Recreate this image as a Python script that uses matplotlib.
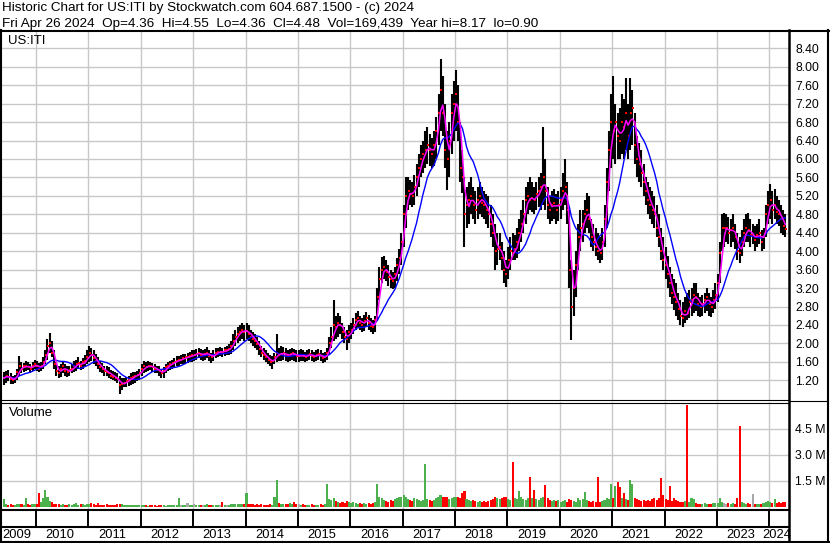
import matplotlib
matplotlib.use('Agg')
import matplotlib.pyplot as plt
from matplotlib.lines import Line2D
import numpy as np
import pandas as pd

plt.rcParams['font.family'] = ['Liberation Sans', 'DejaVu Sans']

# semi-monthly bars (1st / 15th), 15 May 2009 .. 15 Apr 2024
dates = pd.date_range('2009-05-15', '2024-04-15', freq='SMS')

lo = [
    1.10, 1.15, 1.18, 1.12, 1.12, 1.15, 1.20, 1.30, 1.35, 1.38, 1.40, 1.42, 1.35, 1.40, 1.45,  # 2009
    1.40, 1.38, 1.40, 1.45, 1.55, 1.65, 1.80, 1.70, 1.45, 1.30, 1.25, 1.28, 1.35, 1.30, 1.28, 1.30, 1.35, 1.38, 1.40, 1.45, 1.42, 1.45, 1.50, 1.55,  # 2010
    1.60, 1.62, 1.55, 1.50, 1.45, 1.38, 1.35, 1.30, 1.30, 1.25, 1.22, 1.20, 1.18, 1.15, 0.90, 1.00, 1.05, 1.05, 1.08, 1.10, 1.12, 1.15, 1.18, 1.20,  # 2011
    1.30, 1.35, 1.38, 1.40, 1.42, 1.38, 1.35, 1.35, 1.30, 1.25, 1.25, 1.35, 1.40, 1.42, 1.45, 1.48, 1.50, 1.52, 1.55, 1.55, 1.55, 1.58, 1.60, 1.60,  # 2012
    1.62, 1.65, 1.68, 1.65, 1.62, 1.65, 1.68, 1.62, 1.58, 1.62, 1.68, 1.70, 1.72, 1.70, 1.72, 1.75, 1.75, 1.78, 1.85, 1.95, 2.00, 2.05, 2.10, 2.05,  # 2013
    2.10, 2.05, 2.00, 1.95, 1.90, 1.85, 1.75, 1.70, 1.65, 1.60, 1.55, 1.50, 1.45, 1.55, 1.60, 1.62, 1.62, 1.65, 1.62, 1.60, 1.62, 1.65, 1.62, 1.60,  # 2014
    1.60, 1.62, 1.62, 1.60, 1.62, 1.65, 1.62, 1.60, 1.62, 1.65, 1.62, 1.58, 1.60, 1.65, 1.75, 1.90, 2.05, 2.10, 2.15, 2.20, 2.10, 2.00, 1.86, 2.00,  # 2015
    2.10, 2.20, 2.30, 2.35, 2.30, 2.25, 2.28, 2.35, 2.30, 2.25, 2.20, 2.25, 2.50, 2.95, 3.30, 3.40, 3.35, 3.25, 3.20, 3.18, 3.20, 3.35, 3.50, 3.70,  # 2016
    4.10, 4.50, 4.90, 5.00, 4.95, 5.00, 5.20, 5.40, 5.60, 5.70, 5.80, 5.90, 5.85, 5.80, 5.85, 6.00, 6.30, 6.60, 6.50, 5.80, 5.32, 5.60, 6.10, 6.40,  # 2017
    6.60, 6.40, 5.50, 5.26, 4.10, 4.50, 4.60, 4.80, 4.70, 4.60, 4.70, 4.80, 4.75, 4.70, 4.60, 4.50, 4.30, 4.10, 3.60, 3.70, 3.80, 3.60, 3.30, 3.22,  # 2018
    3.40, 3.60, 3.80, 3.80, 3.85, 4.00, 4.20, 4.40, 4.60, 4.80, 4.90, 4.85, 4.80, 4.90, 4.95, 4.90, 5.00, 4.90, 4.70, 4.60, 4.65, 4.70, 4.60, 4.65,  # 2019
    4.70, 4.90, 5.00, 4.60, 3.20, 2.08, 2.60, 3.00, 3.60, 4.00, 4.20, 4.40, 4.50, 4.40, 4.10, 4.00, 3.90, 3.80, 3.74, 3.80, 4.10, 4.50, 5.30, 5.80,  # 2020
    6.00, 5.90, 6.00, 6.00, 6.10, 6.00, 6.20, 6.00, 6.20, 6.30, 5.90, 5.60, 5.50, 5.40, 5.20, 5.00, 4.80, 4.70, 4.60, 4.50, 4.30, 4.10, 3.80, 3.60,  # 2021
    3.40, 3.20, 3.00, 2.85, 2.72, 2.60, 2.50, 2.40, 2.36, 2.45, 2.50, 2.55, 2.60, 2.65, 2.70, 2.60, 2.57, 2.60, 2.65, 2.70, 2.60, 2.57, 2.65, 2.75,  # 2022
    2.90, 3.30, 4.00, 4.10, 4.20, 4.15, 4.10, 4.20, 4.05, 3.80, 3.74, 3.90, 4.10, 4.20, 4.20, 4.10, 4.15, 4.00, 4.10, 4.15, 4.00, 4.05, 4.30, 4.60,  # 2023
    4.70, 4.60, 4.70, 4.60, 4.55, 4.40, 4.35, 4.30,  # 2024
]
hi = [
    1.38, 1.40, 1.42, 1.35, 1.30, 1.32, 1.45, 1.72, 1.60, 1.58, 1.62, 1.60, 1.55, 1.60, 1.65,
    1.62, 1.58, 1.60, 1.70, 1.85, 2.10, 2.23, 2.05, 1.85, 1.60, 1.50, 1.55, 1.62, 1.55, 1.50, 1.52, 1.55, 1.62, 1.65, 1.70, 1.62, 1.68, 1.75, 1.85,
    1.95, 1.90, 1.85, 1.78, 1.70, 1.62, 1.58, 1.52, 1.50, 1.48, 1.42, 1.40, 1.38, 1.35, 1.30, 1.25, 1.25, 1.28, 1.30, 1.35, 1.38, 1.38, 1.40, 1.45,
    1.55, 1.62, 1.60, 1.62, 1.60, 1.58, 1.55, 1.52, 1.50, 1.45, 1.48, 1.55, 1.60, 1.62, 1.65, 1.68, 1.72, 1.72, 1.75, 1.78, 1.78, 1.80, 1.82, 1.85,
    1.85, 1.88, 1.90, 1.88, 1.85, 1.88, 1.92, 1.85, 1.80, 1.85, 1.90, 1.90, 1.92, 1.90, 1.92, 1.95, 1.98, 2.05, 2.20, 2.30, 2.35, 2.40, 2.45, 2.40,
    2.45, 2.40, 2.30, 2.25, 2.20, 2.15, 2.05, 1.95, 1.90, 1.85, 1.80, 1.75, 1.72, 1.80, 2.20, 1.90, 1.95, 1.92, 1.90, 1.85, 1.88, 1.90, 1.88, 1.85,
    1.85, 1.88, 1.85, 1.82, 1.85, 1.88, 1.85, 1.82, 1.85, 1.88, 1.85, 1.80, 1.82, 1.90, 2.15, 2.35, 2.94, 2.60, 2.65, 2.60, 2.45, 2.35, 2.30, 2.40,
    2.45, 2.55, 2.65, 2.70, 2.60, 2.55, 2.62, 2.68, 2.62, 2.55, 2.50, 2.60, 3.20, 3.66, 3.88, 3.90, 3.80, 3.70, 3.60, 3.55, 3.65, 3.85, 4.05, 4.40,
    5.00, 5.60, 5.60, 5.55, 5.50, 5.65, 5.90, 6.10, 6.30, 6.40, 6.60, 6.70, 6.55, 6.45, 6.60, 6.90, 7.40, 8.17, 7.80, 7.20, 6.60, 6.80, 7.40, 7.70,
    7.93, 7.60, 6.80, 6.20, 5.60, 5.40, 5.50, 5.60, 5.40, 5.30, 5.40, 5.50, 5.40, 5.30, 5.25, 5.20, 5.00, 4.80, 4.60, 4.40, 4.40, 4.20, 4.00, 3.80,
    4.10, 4.30, 4.40, 4.35, 4.50, 4.70, 4.90, 5.10, 5.40, 5.50, 5.60, 5.50, 5.40, 5.50, 5.60, 5.70, 6.70, 6.00, 5.40, 5.20, 5.30, 5.35, 5.25, 5.30,
    5.40, 5.70, 6.00, 5.50, 4.90, 3.80, 3.60, 4.00, 4.60, 4.90, 4.90, 5.10, 5.26, 5.20, 4.70, 4.60, 4.50, 4.40, 4.30, 4.50, 5.00, 5.80, 6.60, 7.40,
    7.80, 7.20, 7.00, 7.10, 7.40, 7.30, 7.75, 7.20, 7.75, 7.50, 7.00, 6.50, 6.35, 6.20, 5.90, 5.60, 5.50, 5.40, 5.30, 5.20, 5.00, 4.80, 4.50, 4.30,
    4.10, 3.90, 3.66, 3.50, 3.40, 3.30, 3.10, 2.95, 2.90, 3.00, 3.10, 3.16, 3.20, 3.30, 3.31, 3.10, 3.00, 3.05, 3.10, 3.20, 3.10, 3.00, 3.15, 3.30,
    3.50, 4.20, 4.80, 4.83, 4.80, 4.75, 4.70, 4.80, 4.60, 4.40, 4.30, 4.46, 4.70, 4.80, 4.83, 4.70, 4.60, 4.55, 4.60, 4.70, 4.45, 4.50, 5.00, 5.30,
    5.45, 5.30, 5.35, 5.20, 5.10, 5.00, 4.90, 4.80,
]
close = [
    1.25, 1.30, 1.28, 1.22, 1.20, 1.25, 1.38, 1.50, 1.45, 1.50, 1.52, 1.48, 1.45, 1.52, 1.55,
    1.50, 1.45, 1.52, 1.60, 1.75, 1.95, 2.00, 1.80, 1.55, 1.40, 1.35, 1.45, 1.50, 1.40, 1.38, 1.42, 1.45, 1.50, 1.55, 1.58, 1.50, 1.60, 1.62, 1.70,
    1.80, 1.75, 1.68, 1.62, 1.55, 1.48, 1.45, 1.40, 1.38, 1.35, 1.30, 1.28, 1.25, 1.22, 1.10, 1.12, 1.15, 1.18, 1.20, 1.25, 1.28, 1.30, 1.32, 1.35,
    1.45, 1.50, 1.48, 1.52, 1.50, 1.48, 1.45, 1.42, 1.40, 1.35, 1.40, 1.48, 1.52, 1.55, 1.58, 1.60, 1.62, 1.65, 1.65, 1.68, 1.70, 1.70, 1.72, 1.75,
    1.75, 1.78, 1.80, 1.75, 1.75, 1.78, 1.80, 1.72, 1.70, 1.75, 1.80, 1.82, 1.82, 1.80, 1.85, 1.85, 1.88, 1.95, 2.05, 2.15, 2.20, 2.25, 2.30, 2.25,
    2.28, 2.20, 2.15, 2.10, 2.05, 1.98, 1.88, 1.80, 1.75, 1.70, 1.65, 1.60, 1.62, 1.70, 1.80, 1.75, 1.78, 1.80, 1.75, 1.72, 1.78, 1.80, 1.75, 1.72,
    1.72, 1.75, 1.72, 1.70, 1.75, 1.78, 1.72, 1.70, 1.75, 1.78, 1.72, 1.68, 1.70, 1.80, 2.00, 2.15, 2.40, 2.35, 2.45, 2.40, 2.25, 2.15, 2.10, 2.25,
    2.30, 2.40, 2.50, 2.55, 2.45, 2.40, 2.48, 2.55, 2.45, 2.38, 2.35, 2.50, 3.00, 3.40, 3.60, 3.65, 3.55, 3.45, 3.40, 3.35, 3.50, 3.70, 3.85, 4.20,
    4.80, 5.20, 5.30, 5.25, 5.20, 5.40, 5.60, 5.80, 6.00, 6.10, 6.20, 6.30, 6.20, 6.10, 6.30, 6.60, 7.00, 7.50, 7.00, 6.20, 6.00, 6.40, 7.00, 7.20,
    7.40, 6.80, 5.80, 5.60, 4.80, 5.00, 5.10, 5.20, 5.00, 4.90, 5.10, 5.20, 5.05, 5.00, 4.90, 4.80, 4.60, 4.40, 4.00, 4.05, 4.10, 3.85, 3.60, 3.50,
    3.80, 4.00, 3.95, 4.05, 4.20, 4.40, 4.60, 4.80, 5.10, 5.20, 5.10, 5.15, 5.10, 5.25, 5.30, 5.40, 5.60, 5.30, 5.00, 4.90, 5.00, 5.05, 4.90, 5.00,
    5.10, 5.30, 5.40, 4.90, 3.60, 2.80, 3.20, 3.70, 4.30, 4.50, 4.60, 4.80, 4.90, 4.70, 4.30, 4.20, 4.10, 4.00, 3.95, 4.20, 4.70, 5.50, 6.20, 6.80,
    6.60, 6.80, 6.50, 6.40, 6.80, 6.70, 7.00, 6.50, 7.00, 7.10, 6.30, 6.00, 5.90, 5.70, 5.50, 5.30, 5.10, 5.00, 4.90, 4.80, 4.50, 4.30, 4.00, 3.80,
    3.70, 3.50, 3.30, 3.10, 3.00, 2.90, 2.75, 2.60, 2.55, 2.70, 2.65, 2.90, 2.95, 3.05, 3.00, 2.85, 2.80, 2.85, 2.95, 3.00, 2.85, 2.80, 2.95, 3.05,
    3.30, 3.97, 4.50, 4.50, 4.50, 4.40, 4.45, 4.50, 4.30, 4.00, 3.95, 4.20, 4.40, 4.50, 4.45, 4.35, 4.35, 4.25, 4.35, 4.40, 4.20, 4.30, 4.80, 5.00,
    5.10, 4.90, 5.00, 4.85, 4.80, 4.70, 4.55, 4.48,
]
# biggest daily volume in each half month, millions of shares
volume = [
    0.46, 0.15, 0.12, 0.18, 0.10, 0.12, 0.15, 0.20, 0.15, 0.12, 0.50, 0.15, 0.12, 0.18, 0.15,
    0.20, 0.80, 0.30, 0.50, 1.00, 0.60, 0.35, 0.30, 0.20, 0.15, 0.15, 0.12, 0.15, 0.12, 0.12, 0.15, 0.12, 0.15, 0.22, 0.12, 0.15, 0.15, 0.12, 0.15,
    0.18, 0.25, 0.15, 0.12, 0.25, 0.12, 0.10, 0.12, 0.15, 0.10, 0.12, 0.10, 0.12, 0.15, 0.20, 0.15, 0.12, 0.10, 0.12, 0.10, 0.12, 0.10, 0.12, 0.10,
    0.10, 0.12, 0.10, 0.08, 0.10, 0.12, 0.10, 0.08, 0.10, 0.12, 0.10, 0.08, 0.10, 0.12, 0.10, 0.12, 0.10, 0.50, 0.12, 0.10, 0.12, 0.25, 0.10, 0.12,
    0.15, 0.12, 0.10, 0.12, 0.10, 0.12, 0.15, 0.10, 0.12, 0.10, 0.12, 0.10, 0.12, 0.30, 0.12, 0.10, 0.12, 0.15, 0.20, 0.18, 0.15, 0.20, 0.18, 0.15,
    0.80, 0.20, 0.15, 0.18, 0.12, 0.15, 0.12, 0.15, 0.12, 0.10, 0.12, 0.15, 0.12, 0.60, 1.55, 0.25, 0.20, 0.15, 0.18, 0.15, 0.25, 0.20, 0.30, 0.15,
    0.15, 0.12, 0.15, 0.12, 0.10, 0.12, 0.15, 0.12, 0.10, 0.12, 0.15, 0.12, 0.20, 1.30, 0.45, 0.40, 0.50, 0.35, 0.30, 0.25, 0.30, 0.25, 0.35, 0.30,
    0.25, 0.30, 0.25, 0.20, 0.25, 0.20, 0.25, 0.20, 0.22, 0.20, 0.25, 0.30, 1.35, 0.60, 0.50, 0.40, 0.35, 0.30, 0.40, 0.35, 0.45, 0.50, 0.55, 0.60,
    0.70, 0.60, 0.45, 0.40, 0.35, 0.50, 0.45, 0.40, 0.35, 0.40, 2.50, 0.45, 0.40, 0.35, 0.40, 0.50, 0.60, 0.70, 0.55, 0.60, 0.55, 0.45, 0.50, 0.60,
    0.60, 0.55, 0.50, 0.80, 0.90, 0.45, 0.40, 0.35, 0.40, 0.35, 0.30, 0.35, 0.30, 0.35, 0.30, 0.35, 0.40, 0.45, 0.60, 0.50, 0.45, 0.50, 0.55, 0.60,
    0.45, 0.40, 2.60, 0.50, 0.45, 0.90, 0.60, 0.45, 0.40, 0.50, 1.70, 0.50, 1.00, 0.45, 0.40, 0.50, 0.55, 1.26, 0.50, 0.40, 0.35, 0.40, 0.35, 0.40,
    0.30, 0.35, 0.40, 0.30, 0.45, 0.40, 0.35, 0.30, 0.50, 0.40, 0.45, 0.87, 0.40, 0.35, 0.30, 0.35, 0.30, 1.70, 0.30, 0.35, 0.40, 0.50, 0.45, 1.30,
    0.50, 1.20, 1.45, 1.15, 0.50, 0.80, 0.45, 0.40, 1.55, 1.35, 0.50, 0.45, 0.40, 0.35, 0.40, 0.35, 0.40, 0.35, 0.45, 0.50, 0.40, 0.50, 1.65, 0.70,
    0.45, 0.40, 1.20, 0.35, 0.50, 0.40, 0.35, 0.30, 0.30, 0.35, 5.86, 0.30, 0.50, 0.45, 0.25, 0.20, 0.18, 0.20, 0.25, 0.20, 0.18, 0.20, 0.25, 0.22,
    0.25, 0.50, 0.30, 0.25, 0.20, 0.22, 0.20, 0.25, 0.20, 0.50, 4.63, 0.30, 0.25, 0.20, 0.22, 0.20, 0.75, 0.20, 0.18, 0.20, 0.18, 0.22, 0.30, 0.35,
    0.30, 0.25, 0.45, 0.25, 0.30, 0.25, 0.28, 0.30,
]
price_ticks = [1.20, 1.60, 2.00, 2.40, 2.80, 3.20, 3.60, 4.00, 4.40, 4.80, 5.20, 5.60,
               6.00, 6.40, 6.80, 7.20, 7.60, 8.00, 8.40]
vol_ticks = [1.5, 3.0, 4.5]
years = list(range(2009, 2025))

header1 = "Historic Chart for US:ITI by Stockwatch.com 604.687.1500 - (c) 2024"
header2 = "Fri Apr 26 2024  Op=4.36  Hi=4.55  Lo=4.36  Cl=4.48  Vol=169,439  Year hi=8.17  lo=0.90"

assert len(dates) == len(lo) == len(hi) == len(close) == len(volume), \
    (len(dates), len(lo), len(hi), len(close), len(volume))

lo = np.array(lo)
hi = np.array(hi)
close = np.array(close)
volume = np.array(volume)
t = dates.year + (dates.dayofyear + 6) / 365.25   # middle of each half month

ma_fast = pd.Series(close).rolling(3, min_periods=1).mean()
ma_slow = pd.Series(close).rolling(12, min_periods=1).mean()

chg = np.diff(close, prepend=close[0] - 0.01)
vcol = np.where(chg > 0, '#4cb04c', np.where(chg < 0, '#ff0000', '#a8a8a8'))

W, H = 830, 543
fig = plt.figure(figsize=(W / 100, H / 100), dpi=100)
fig.patch.set_facecolor('white')

def box(x0, y0, x1, y1):
    return [x0 / W, 1 - y1 / H, (x1 - x0) / W, (y1 - y0) / H]

def fline(xs, ys, lw):
    fig.add_artist(Line2D([x / W for x in xs], [1 - y / H for y in ys],
                          color='black', lw=lw, transform=fig.transFigure, zorder=10))

XMIN, XMAX = 2009.351, 2024.376
GRID = '#c8c8c8'

# price panel
ax = fig.add_axes(box(2, 31, 789, 400))
ax.vlines(t, lo, hi, color='black', lw=1.5, zorder=3)
ax.plot(t + 0.008, close, 's', ms=1.6, mew=0, color='#ff0000', zorder=4)
ax.plot(t, ma_slow, color='#0000ff', lw=1.0, zorder=5)
ax.plot(t, ma_fast, color='#ff00ff', lw=1.1, zorder=6)
ax.set_xlim(XMIN, XMAX)
ax.set_ylim(0.773, 8.775)
ax.set_yticks(price_ticks)
ax.set_yticklabels(['%.2f' % v for v in price_ticks])
ax.set_xticks(years[1:])
ax.set_xticklabels([])
ax.text(0.008, 0.972, 'US:ITI', transform=ax.transAxes, fontsize=9.5, va='center', ha='left')

# volume panel
axv = fig.add_axes(box(2, 402, 789, 510))
axv.bar(t, volume, width=1 / 24 * 0.95, color=vcol, lw=0, zorder=3)
axv.set_xlim(XMIN, XMAX)
axv.set_ylim(-0.172, 6.034)
axv.set_yticks(vol_ticks)
axv.set_yticklabels(['%.1f M' % v for v in vol_ticks])
axv.set_xticks(years[1:])
axv.set_xticklabels([])
axv.text(0.009, 0.9, 'Volume', transform=axv.transAxes, fontsize=9.5, va='center', ha='left')

for a in (ax, axv):
    a.set_facecolor('white')
    for s in a.spines.values():
        s.set_visible(False)
    a.grid(True, color=GRID, lw=1.0, zorder=0)
    a.set_axisbelow(True)
    a.tick_params(axis='y', left=False, labelleft=False, right=True, labelright=True,
                  length=0, pad=4.5, labelsize=8.8)
    a.tick_params(axis='x', length=0)

# time strip
axt = fig.add_axes(box(2, 510, 789, 541))
axt.set_xlim(XMIN, XMAX)
axt.set_ylim(541, 510)
axt.axis('off')
axt.vlines(years[1:], 510, 527, color='black', lw=1.4)
for y in years:
    a0, a1 = max(y, XMIN), min(y + 1, XMAX)
    axt.text((a0 + a1) / 2 - 0.04, 534.5, str(y), ha='center', va='center', fontsize=9.3)

# header
fig.text(2 / W, 1 - 11.5 / H, header1, fontsize=9.7, va='baseline', ha='left')
fig.text(2 / W, 1 - 26.5 / H, header2, fontsize=9.7, va='baseline', ha='left')

# frame lines
fline([0, W], [30.5, 30.5], 1.5)
fline([1, 1], [30, 543], 1.5)
fline([788.8, 788.8], [30, 543], 1.8)
fline([828, 828], [30, 543], 1.5)
fline([0, 789], [400, 400], 0.8)
fline([0, 789], [402.5, 402.5], 0.8)
fline([789, 828], [400.7, 400.7], 0.8)
fline([0, 789], [509.5, 509.5], 1.5)
fline([0, 789], [527, 527], 1.5)
fline([0, W], [541.8, 541.8], 1.5)

fig.savefig('out.png', dpi=100, facecolor='white')
